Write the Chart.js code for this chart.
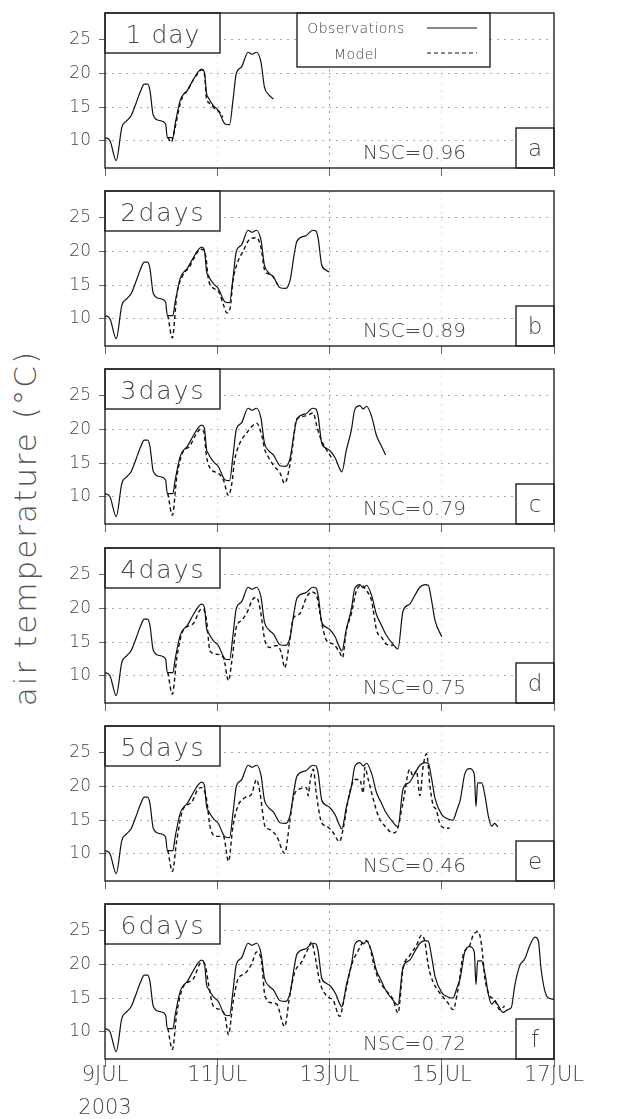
<!DOCTYPE html>
<html>
<head>
<meta charset="utf-8">
<script src="https://cdn.jsdelivr.net/npm/chart.js@4.4.0/dist/chart.umd.min.js"></script>
<style>
  html, body { margin: 0; padding: 0; background: #fff; }
  #wrap { position: relative; width: 619px; height: 1119px; overflow: hidden; }
  #wrap canvas { position: absolute; left: 0; }
  #ytitle {
    position: absolute; width: 440px; left: -195px; top: 510px;
    text-align: center; font: 200 31px "DejaVu Sans", sans-serif; color: #555;
    letter-spacing: 2px; line-height: 36px; white-space: nowrap;
    transform: rotate(-90deg); transform-origin: 50% 50%;
  }
</style>
</head>
<body>
<div id="wrap"><div id="ytitle">air temperature (°C)</div></div>
<script>
// axis ticks (x in days since 9 JUL 2003 00h)
const dayTicks = [0, 2, 4, 6, 8];
const dayTickLabels = [['9JUL', '2003'], '11JUL', '13JUL', '15JUL', '17JUL'];
const tempTicks = [10, 15, 20, 25];

// panel texts
const panelLabels = ['1 day', '2days', '3days', '4days', '5days', '6days'];
const panelLetters = ['a', 'b', 'c', 'd', 'e', 'f'];
const nscValues = ['0.96', '0.89', '0.79', '0.75', '0.46', '0.72'];
const obsEnd = [3, 4, 5, 6, 7, 8];

// observations (shared by all panels)
const obsDay = [0.00, 0.09, 0.20, 0.30, 0.39, 0.47, 0.55, 0.63, 0.70, 0.76, 0.80, 0.86, 0.98, 1.08, 1.11, 1.21,
  1.25, 1.34, 1.40, 1.46, 1.57, 1.66, 1.72, 1.77, 1.81, 1.84, 1.93, 2.02, 2.10, 2.14, 2.22, 2.28, 2.34, 2.43,
  2.55, 2.62, 2.70, 2.78, 2.84, 2.92, 3.00, 3.12, 3.22, 3.30, 3.37, 3.42, 3.58, 3.70, 3.76, 3.80, 3.86, 3.94,
  4.00, 4.10, 4.18, 4.22, 4.30, 4.39, 4.45, 4.54, 4.60, 4.66, 4.75, 4.84, 4.92, 5.00, 5.13, 5.22, 5.31, 5.43,
  5.52, 5.61, 5.70, 5.76, 5.82, 5.88, 6.00, 6.10, 6.20, 6.27, 6.33, 6.41, 6.50, 6.58, 6.61, 6.64, 6.71, 6.77,
  6.83, 6.89, 6.94, 7.00, 7.09, 7.18, 7.24, 7.30, 7.39, 7.48, 7.57, 7.66, 7.72, 7.77, 7.83, 7.89, 8.00];
const obsTemp = [10.5, 10.0, 7.1, 12.0, 13.0, 13.8, 15.5, 17.3, 18.4, 18.4, 17.5, 13.8, 13.0, 12.5, 10.5, 10.5,
  12.5, 16.0, 16.9, 17.4, 19.0, 20.2, 20.6, 20.2, 17.0, 16.4, 15.2, 14.5, 13.0, 12.5, 12.4, 16.0, 20.0, 20.9,
  23.1, 22.8, 23.1, 21.6, 18.0, 16.8, 16.2, 14.6, 14.5, 15.8, 19.5, 21.5, 22.3, 23.1, 23.0, 21.8, 18.0, 17.2,
  16.9, 15.8, 14.2, 13.7, 16.9, 19.9, 22.9, 23.5, 23.0, 23.4, 21.9, 19.0, 17.6, 16.2, 14.7, 14.0, 19.6, 20.6,
  21.9, 23.1, 23.5, 23.4, 21.1, 18.2, 15.8, 15.2, 15.0, 16.5, 18.0, 21.8, 22.6, 21.8, 17.0, 20.5, 20.5, 18.6,
  15.6, 14.1, 14.5, 14.0, 12.9, 13.3, 13.6, 16.8, 19.8, 20.8, 22.8, 24.0, 23.5, 19.3, 16.3, 15.1, 14.8];

// model runs, one per forecast length
const model1Day = [1.12, 1.18, 1.25, 1.34, 1.40, 1.46, 1.57, 1.66, 1.72, 1.77, 1.81, 1.88, 1.95, 2.05, 2.10];
const model1Temp = [10.5, 9.8, 12.0, 15.5, 16.8, 17.3, 19.0, 20.0, 20.5, 20.0, 16.2, 15.5, 14.8, 14.2, 13.5];

const model2Day = [1.12, 1.20, 1.28, 1.39, 1.50, 1.60, 1.70, 1.76, 1.80, 1.84, 1.92, 2.02, 2.11, 2.17, 2.23,
  2.28, 2.37, 2.46, 2.58, 2.70, 2.78, 2.85, 2.94, 3.00, 3.08];
const model2Temp = [10.5, 7.2, 13.6, 16.5, 17.6, 19.2, 20.3, 20.2, 19.0, 16.0, 14.6, 14.1, 12.1, 10.9, 11.6,
  15.6, 18.5, 20.0, 21.8, 22.0, 20.5, 17.0, 16.6, 16.2, 15.0];

const model3Day = [1.12, 1.20, 1.28, 1.39, 1.50, 1.62, 1.70, 1.76, 1.81, 1.90, 2.02, 2.11, 2.20, 2.26, 2.31,
  2.40, 2.52, 2.64, 2.70, 2.79, 2.85, 2.91, 3.00, 3.12, 3.20, 3.29, 3.35, 3.41, 3.53, 3.62, 3.71, 3.77, 3.83,
  3.95, 4.07];
const model3Temp = [10.5, 7.3, 13.0, 16.7, 17.4, 19.2, 20.0, 19.6, 15.9, 14.0, 13.5, 12.5, 10.2, 12.0, 15.4,
  17.9, 19.4, 20.6, 20.9, 19.2, 16.9, 15.9, 14.7, 13.5, 12.0, 14.5, 17.9, 21.4, 21.9, 22.1, 22.4, 20.6, 18.9,
  16.9, 15.4];

const model4Day = [1.12, 1.20, 1.28, 1.39, 1.57, 1.69, 1.75, 1.81, 1.87, 1.99, 2.11, 2.20, 2.26, 2.34, 2.43,
  2.52, 2.64, 2.70, 2.76, 2.85, 2.94, 3.06, 3.15, 3.20, 3.29, 3.35, 3.47, 3.59, 3.68, 3.77, 3.83, 3.89, 3.95,
  4.07, 4.18, 4.23, 4.30, 4.39, 4.48, 4.57, 4.66, 4.75, 4.84, 4.93, 5.01, 5.13];
const model4Temp = [10.5, 7.3, 12.7, 16.7, 17.7, 19.7, 19.9, 18.2, 13.7, 13.2, 12.7, 9.3, 12.2, 17.2, 18.2,
  19.2, 21.4, 21.6, 20.1, 15.2, 14.2, 14.5, 13.2, 11.2, 15.2, 18.4, 19.2, 21.6, 22.4, 21.9, 19.2, 16.7, 15.2,
  14.7, 13.5, 12.7, 16.7, 19.2, 22.6, 23.4, 22.6, 21.1, 16.7, 15.7, 14.7, 14.5];

const model5Day = [1.12, 1.20, 1.28, 1.39, 1.54, 1.66, 1.72, 1.81, 1.87, 1.99, 2.11, 2.20, 2.28, 2.37, 2.49,
  2.61, 2.70, 2.76, 2.85, 2.94, 3.06, 3.20, 3.29, 3.35, 3.47, 3.59, 3.62, 3.65, 3.71, 3.77, 3.86, 3.95, 4.07,
  4.18, 4.24, 4.36, 4.45, 4.54, 4.60, 4.63, 4.69, 4.78, 4.87, 4.99, 5.13, 5.19, 5.31, 5.43, 5.49, 5.55, 5.61,
  5.67, 5.73, 5.79, 5.85, 5.90, 5.96, 6.08, 6.14];
const model5Temp = [10.5, 7.4, 12.1, 16.6, 17.6, 19.6, 19.8, 18.1, 14.1, 12.6, 12.6, 8.9, 14.1, 17.1, 18.3,
  18.8, 21.0, 19.1, 14.1, 13.6, 12.6, 10.1, 14.6, 18.1, 19.6, 19.8, 18.6, 20.5, 22.5, 18.6, 14.6, 14.1, 13.1,
  11.8, 13.6, 19.1, 21.0, 21.0, 19.0, 22.8, 21.0, 18.1, 15.6, 14.1, 13.1, 13.3, 17.6, 22.5, 21.5, 22.3, 18.6,
  23.0, 24.8, 20.0, 17.1, 16.6, 14.6, 13.8, 13.8];

const model6Day = [1.12, 1.20, 1.28, 1.39, 1.57, 1.72, 1.78, 1.84, 1.93, 2.05, 2.14, 2.20, 2.28, 2.37, 2.49,
  2.61, 2.70, 2.79, 2.85, 2.97, 3.06, 3.20, 3.29, 3.38, 3.50, 3.62, 3.68, 3.74, 3.83, 3.95, 4.07, 4.18, 4.27,
  4.39, 4.51, 4.63, 4.69, 4.78, 4.87, 4.99, 5.13, 5.22, 5.31, 5.43, 5.55, 5.64, 5.70, 5.76, 5.85, 5.96, 6.11,
  6.20, 6.29, 6.38, 6.50, 6.56, 6.65, 6.71, 6.77, 6.86, 6.94, 7.03, 7.12];
const model6Temp = [10.5, 7.4, 12.8, 16.6, 17.8, 20.3, 20.0, 17.3, 13.8, 13.3, 12.3, 9.6, 14.3, 17.8, 18.6,
  20.0, 21.8, 20.3, 15.3, 14.3, 14.1, 10.8, 15.3, 18.8, 20.3, 22.3, 23.3, 21.3, 17.3, 15.3, 14.6, 12.3, 15.3,
  19.8, 22.0, 23.5, 23.3, 20.3, 17.8, 16.3, 14.8, 12.8, 19.3, 21.3, 22.8, 24.3, 23.3, 19.8, 17.3, 15.8, 14.3,
  13.3, 16.3, 21.3, 22.8, 24.3, 24.8, 22.8, 17.8, 15.3, 14.8, 13.3, 13.8];

const modelDays = [model1Day, model2Day, model3Day, model4Day, model5Day, model6Day];
const modelTemps = [model1Temp, model2Temp, model3Temp, model4Temp, model5Temp, model6Temp];

// layout of the six panels (page pixels)
const panelTop = [13, 191, 369, 548, 726, 904];
const panelH = 155;
const FONT = '"DejaVu Sans", sans-serif';
const TEXT = '#444';

const wrap = document.getElementById('wrap');

/**
 * Boxes and texts drawn on each panel: frame, panel label, letter, NSC score
 */
function panelDeco(i) {
  return {
    id: 'deco' + i,
    afterDraw(chart) {
      const ctx = chart.ctx;
      const a = chart.chartArea;
      ctx.save();
      ctx.strokeStyle = '#222';
      ctx.lineWidth = 1.4;
      ctx.fillStyle = '#fff';

      // label box top-left
      ctx.fillRect(a.left, a.top, 115, 40);
      ctx.strokeRect(a.left, a.top, 115, 40);
      // letter box bottom-right
      ctx.fillRect(a.right - 38, a.bottom - 40, 38, 40);
      ctx.strokeRect(a.right - 38, a.bottom - 40, 38, 40);

      ctx.fillStyle = TEXT;
      ctx.textBaseline = 'alphabetic';
      ctx.textAlign = 'center';
      ctx.font = '200 25px ' + FONT;
      ctx.letterSpacing = i === 0 ? '1px' : '2px';
      ctx.fillText(panelLabels[i], a.left + 58, a.top + 30);
      ctx.letterSpacing = '0px';
      ctx.font = '200 23px ' + FONT;
      ctx.fillText(panelLetters[i], a.right - 19, a.bottom - 12);
      ctx.textAlign = 'left';
      ctx.font = '200 20px ' + FONT;
      ctx.fillText('NSC=' + nscValues[i], a.left + 258, a.bottom - 9);

      // legend on first panel
      if (i === 0) {
        ctx.fillStyle = '#fff';
        ctx.fillRect(a.left + 192, a.top, 193, 54);
        ctx.strokeRect(a.left + 192, a.top, 193, 54);
        ctx.fillStyle = TEXT;
        ctx.font = '200 14px ' + FONT;
        ctx.letterSpacing = '0.4px';
        ctx.textAlign = 'center';
        ctx.fillText('Observations', a.left + 251, a.top + 20);
        ctx.fillText('Model', a.left + 251, a.top + 46);
        ctx.letterSpacing = '0px';
        ctx.strokeStyle = '#111';
        ctx.lineWidth = 1.2;
        ctx.beginPath();
        ctx.moveTo(a.left + 322, a.top + 15);
        ctx.lineTo(a.left + 372, a.top + 15);
        ctx.stroke();
        ctx.setLineDash([4, 3]);
        ctx.beginPath();
        ctx.moveTo(a.left + 322, a.top + 40);
        ctx.lineTo(a.left + 372, a.top + 40);
        ctx.stroke();
        ctx.setLineDash([]);
      }

      // panel frame
      ctx.strokeStyle = '#222';
      ctx.lineWidth = 1.4;
      ctx.strokeRect(a.left, a.top, a.right - a.left, a.bottom - a.top);
      ctx.restore();
    }
  };
}

function makePanel(i) {
  const last = i === panelTop.length - 1;
  const padTop = 4;
  const axisH = last ? 70 : 10;

  const canvas = document.createElement('canvas');
  canvas.width = 619;
  canvas.height = padTop + panelH + axisH;
  canvas.style.top = (panelTop[i] - padTop) + 'px';
  wrap.appendChild(canvas);

  const obs = obsDay
    .map((d, k) => ({ x: d, y: obsTemp[k] }))
    .filter(p => p.x <= obsEnd[i] + 1e-6);
  const model = modelDays[i].map((d, k) => ({ x: d, y: modelTemps[i][k] }));

  return new Chart(canvas, {
    type: 'line',
    data: {
      datasets: [
        { label: 'Observations', data: obs, borderColor: '#111', borderWidth: 1.2,
          pointRadius: 0, cubicInterpolationMode: 'monotone', fill: false },
        { label: 'Model', data: model, borderColor: '#111', borderWidth: 1.4, borderDash: [4, 3],
          pointRadius: 0, cubicInterpolationMode: 'monotone', fill: false }
      ]
    },
    options: {
      responsive: false,
      animation: false,
      events: [],
      layout: { padding: { left: 0, right: 65, top: padTop, bottom: 0 } },
      plugins: { legend: { display: false }, tooltip: { enabled: false } },
      scales: {
        x: {
          type: 'linear',
          min: 0,
          max: 8,
          afterBuildTicks: s => { s.ticks = dayTicks.map(v => ({ value: v })); },
          afterFit: s => { s.height = axisH; s.paddingLeft = 0; s.paddingRight = 0; },
          grid: {
            color: c => (c.tick && c.tick.value === 4) ? '#999' :
              (c.tick && (c.tick.value === 2 || c.tick.value === 6)) ? '#ddd' : 'rgba(0,0,0,0)',
            lineWidth: 1,
            tickLength: 8,
            tickColor: '#666',
            tickWidth: 1
          },
          border: { display: false, dash: [2, 5] },
          ticks: {
            display: last,
            autoSkip: false,
            maxRotation: 0,
            padding: -8,
            color: TEXT,
            font: { family: FONT, size: 21, weight: 200, lineHeight: '33px' },
            callback: v => dayTickLabels[dayTicks.indexOf(v)]
          }
        },
        y: {
          min: 6,
          max: 28.9,
          afterBuildTicks: s => { s.ticks = tempTicks.map(v => ({ value: v })); },
          afterFit: s => { s.width = 105; s.paddingTop = 0; s.paddingBottom = 0; },
          grid: { color: '#aaa', lineWidth: 1, tickLength: 6, tickColor: '#666', tickWidth: 1 },
          border: { display: false, dash: [2, 5] },
          ticks: {
            padding: 8,
            color: TEXT,
            font: { family: FONT, size: 17, weight: 200 }
          }
        }
      }
    },
    plugins: [panelDeco(i)]
  });
}

panelTop.forEach((t, i) => makePanel(i));
</script>
</body>
</html>
